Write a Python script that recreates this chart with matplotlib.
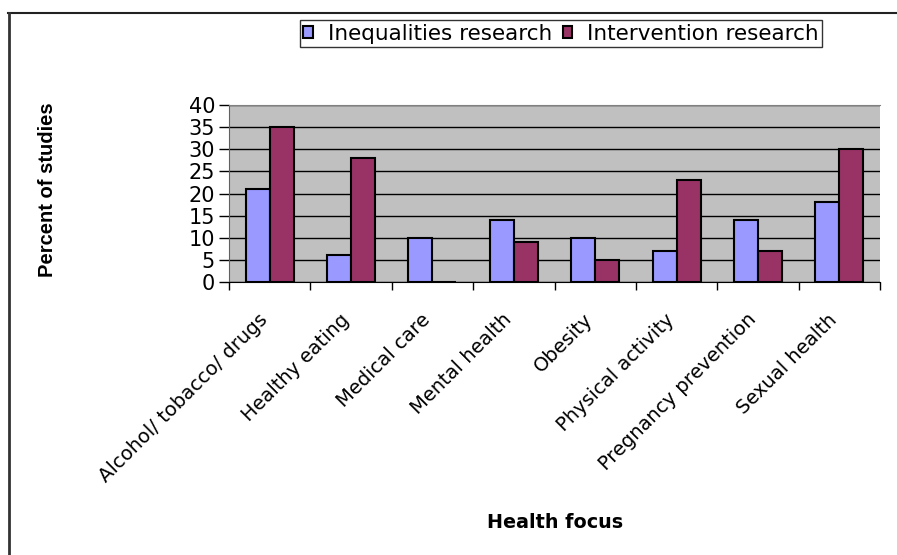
# Percent of studies per health focus, inequalities vs intervention research.

import numpy as np
from matplotlib import pyplot as plt
from matplotlib.lines import Line2D
from matplotlib.transforms import ScaledTranslation

categories = ["Alcohol/ tobacco/ drugs", "Healthy eating", "Medical care", "Mental health",
              "Obesity", "Physical activity", "Pregnancy prevention", "Sexual health"]
inequalities = [21, 6, 10, 14, 10, 7, 14, 18]
intervention = [35, 28, 0, 9, 5, 23, 7, 30]
yticks = [0, 5, 10, 15, 20, 25, 30, 35, 40]

plt.rcParams['font.family'] = ['DejaVu Sans']

fig = plt.figure(figsize=(8.97, 5.55), dpi=100)
W, H = 897, 555
x0, x1, y0, y1 = 229, 880, 282, 105
ax = fig.add_axes([x0 / W, 1 - y0 / H, (x1 - x0) / W, (y0 - y1) / H])
ax.set_facecolor('#C0C0C0')

xpos = np.arange(len(categories))
w = 0.295
ax.bar(xpos - w / 2, inequalities, width=w, color='#9999FF', edgecolor='black',
       linewidth=1.5, label="Inequalities research", zorder=3)
ax.bar(xpos + w / 2, intervention, width=w, color='#993366', edgecolor='black',
       linewidth=1.5, label="Intervention research", zorder=3)

ax.set_xlim(-0.5, len(categories) - 0.5)
ax.set_ylim(0, 40)
ax.set_yticks(yticks)
ax.tick_params(axis='y', labelsize=15, length=7, width=1, pad=3)
ax.yaxis.grid(True, color='black', linewidth=1, zorder=1)
ax.set_axisbelow(True)

# ticks on category boundaries, labels on category centres
ax.set_xticks(np.arange(len(categories) + 1) - 0.5)
ax.set_xticklabels([])
ax.tick_params(axis='x', length=6, width=1, direction='out')
ax.set_xticks(xpos, minor=True)
ax.set_xticklabels(categories, minor=True, rotation=45, ha='right', va='center',
                   rotation_mode='anchor', fontsize=14)
ax.tick_params(axis='x', which='minor', length=0, pad=25)
shift = ScaledTranslation(-5 / 100, 0, fig.dpi_scale_trans)
for lab in ax.get_xticklabels(minor=True):
    lab.set_transform(lab.get_transform() + shift)

ax.spines['top'].set_color('#808080')
ax.spines['right'].set_visible(False)
ax.spines['left'].set_color('#606060')
ax.spines['bottom'].set_color('black')

ax.set_ylabel("Percent of studies", fontsize=14.5, fontweight='bold',
              family=['Liberation Sans', 'DejaVu Sans'])
ax.yaxis.set_label_coords((57 - x0) / (x1 - x0), 0.52)
fig.text(555 / W, 1 - 522 / H, "Health focus", fontsize=13.8, fontweight='bold',
         ha='center', va='center')

leg = fig.legend(loc='center', bbox_to_anchor=(561 / W, 1 - 33.5 / H), ncol=2,
                 fontsize=15.5, frameon=True, fancybox=False, edgecolor='black',
                 handlelength=0.45, handleheight=0.45, handletextpad=0.7,
                 columnspacing=0.5, borderpad=0.15)
leg.get_frame().set_linewidth(1)
for p in leg.get_patches():
    p.set_linewidth(1.5)

# outer chart frame
fig.add_artist(Line2D([8 / W, 1], [1 - 13 / H, 1 - 13 / H], color='#222222', linewidth=1.5))
fig.add_artist(Line2D([9 / W, 9 / W], [0, 1 - 13 / H], color='#333333', linewidth=2))

fig.savefig('out.png', dpi=100)
